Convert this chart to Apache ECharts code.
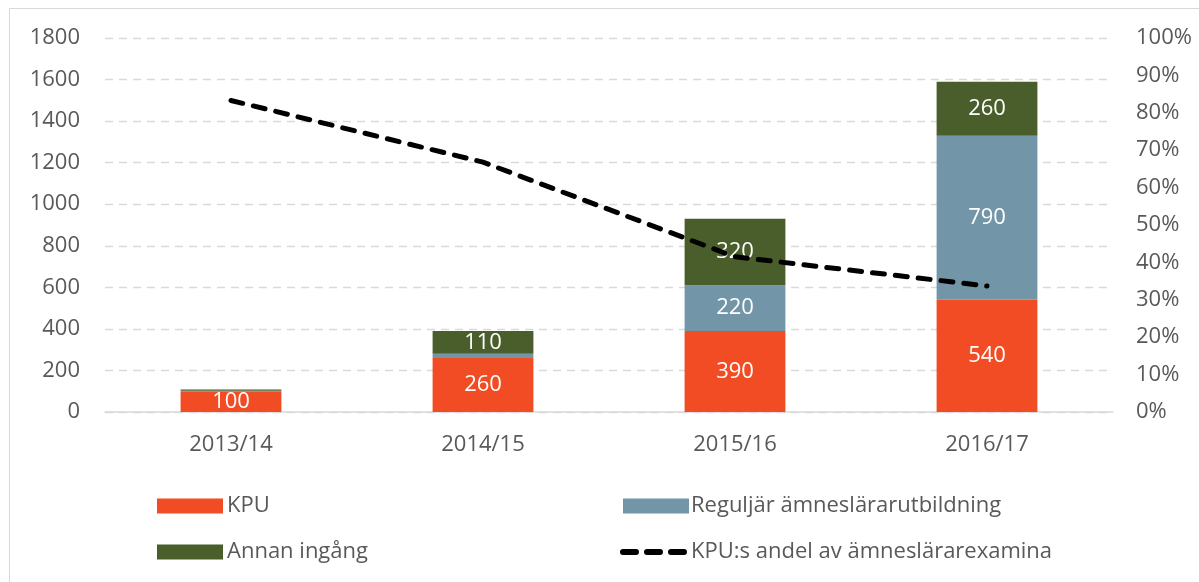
<!DOCTYPE html>
<html>
<head>
<meta charset="utf-8">
<script src="https://cdn.jsdelivr.net/npm/echarts@6/dist/echarts.min.js"></script>
<style>
  html, body { margin: 0; padding: 0; background: #fff; }
  #main { width: 1199px; height: 582px; }
</style>
</head>
<body>
<div id="main"></div>
<script>
var years = ['2013/14', '2014/15', '2015/16', '2016/17'];
var kpu = [100, 260, 390, 540];
var reguljar = [2, 20, 220, 790];
var annan = [6, 110, 320, 260];
var andel = [0.833, 0.668, 0.415, 0.337];
var leftTicks = [0, 1800, 200];
var rightTicks = [0, 1, 0.1];

var chart = echarts.init(document.getElementById('main'), null, { renderer: 'canvas' });

var font = '"Open Sans", sans-serif';
var grey = '#595959';

function barLabel(p) {
  return p.value >= 50 ? p.value : '';
}

var option = {
  backgroundColor: '#ffffff',
  animation: false,
  textStyle: { fontFamily: font },
  graphic: [{
    type: 'rect',
    shape: { x: 9.5, y: 8.5, width: 1200, height: 600 },
    style: { fill: 'none', stroke: '#d9d9d9', lineWidth: 1 },
    silent: true
  }],
  grid: { left: 105, right: 86, top: 38, bottom: 170 },
  legend: [{
    orient: 'vertical',
    left: 152,
    top: 490,
    itemWidth: 66,
    itemHeight: 15,
    itemGap: 24,
    icon: 'rect',
    textStyle: { color: grey, fontSize: 22, fontFamily: font, padding: [0, 0, 0, -1] },
    data: ['KPU', 'Annan ingång']
  }, {
    orient: 'vertical',
    left: 615,
    top: 490,
    itemWidth: 66,
    itemHeight: 15,
    itemGap: 24,
    textStyle: { color: grey, fontSize: 22, fontFamily: font, padding: [0, 0, 0, -3] },
    data: [{ name: 'Reguljär ämneslärarutbildning', icon: 'rect' }, {
      name: 'KPU:s andel av ämneslärarexamina',
      itemStyle: { opacity: 0 },
      lineStyle: { color: '#000', width: 6, type: [13, 11], cap: 'round' }
    }]
  }],
  xAxis: {
    type: 'category',
    data: years,
    axisTick: { show: false },
    axisLine: { lineStyle: { color: '#d9d9d9', width: 1.5 } },
    axisLabel: { color: grey, fontSize: 22, margin: 22, fontFamily: font }
  },
  yAxis: [{
    type: 'value',
    min: leftTicks[0],
    max: leftTicks[1],
    interval: leftTicks[2],
    axisLine: { show: false },
    axisTick: { show: false },
    axisLabel: { color: grey, fontSize: 22, margin: 25, fontFamily: font, formatter: function (v) { return String(v); } },
    splitLine: { lineStyle: { color: '#d9d9d9', type: [8, 6], width: 1.3 } }
  }, {
    type: 'value',
    min: rightTicks[0],
    max: rightTicks[1],
    interval: rightTicks[2],
    axisLine: { show: false },
    axisTick: { show: false },
    splitLine: { show: false },
    axisLabel: {
      color: grey, fontSize: 22, margin: 23, fontFamily: font,
      formatter: function (v) { return Math.round(v * 100) + '%'; }
    }
  }],
  series: [{
    name: 'KPU',
    type: 'bar',
    stack: 'total',
    barWidth: '40%',
    itemStyle: { color: '#f14c23' },
    label: { show: true, position: 'inside', color: '#fff', fontSize: 22, fontFamily: font, formatter: barLabel },
    data: kpu
  }, {
    name: 'Reguljär ämneslärarutbildning',
    type: 'bar',
    stack: 'total',
    itemStyle: { color: '#7295a8' },
    label: { show: true, position: 'inside', color: '#fff', fontSize: 22, fontFamily: font, formatter: barLabel },
    data: reguljar
  }, {
    name: 'Annan ingång',
    type: 'bar',
    stack: 'total',
    itemStyle: { color: '#4a5e2b' },
    label: { show: true, position: 'inside', color: '#fff', fontSize: 22, fontFamily: font, formatter: barLabel },
    data: annan
  }, {
    name: 'KPU:s andel av ämneslärarexamina',
    type: 'line',
    yAxisIndex: 1,
    symbol: 'none',
    z: 5,
    itemStyle: { color: '#000' },
    lineStyle: { color: '#000', width: 5, type: [12, 11], cap: 'round' },
    data: andel
  }]
};

chart.setOption(option);
</script>
</body>
</html>
